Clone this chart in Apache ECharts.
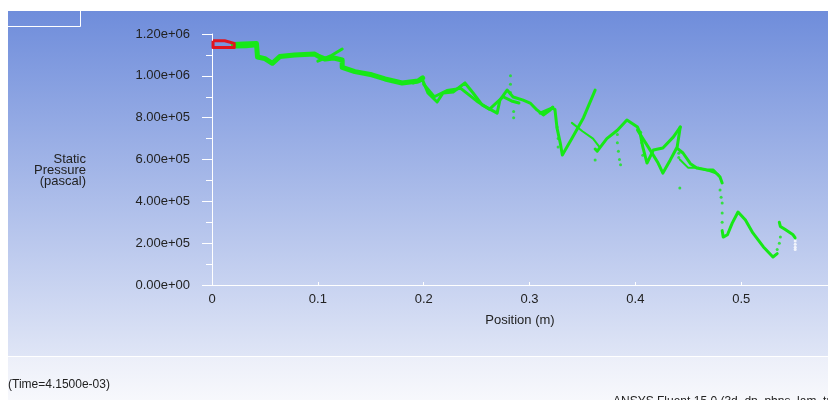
<!DOCTYPE html>
<html>
<head>
<meta charset="utf-8">
<script src="https://cdn.jsdelivr.net/npm/echarts@6/dist/echarts.min.js"></script>
<style>
  html, body { margin: 0; padding: 0; background: #ffffff; }
  #chart { width: 828px; height: 400px; }
</style>
</head>
<body>
<div id="chart"></div>
<script>
// tick labels
const xTickLabels = ['0', '0.1', '0.2', '0.3', '0.4', '0.5']
const yTickLabels = ['0.00e+00', '2.00e+05', '4.00e+05', '6.00e+05', '8.00e+05', '1.00e+06', '1.20e+06']

// red inlet loop
const redLoop = [[0.001, 1.168e6], [0.012, 1.168e6], [0.021, 1.155e6], [0.021, 1.135e6], [0.001, 1.135e6], [0.001, 1.168e6]]

// green strands
const strandA = [[0.020, 1.150e6], [0.030, 1.152e6], [0.042, 1.155e6], [0.043, 1.090e6], [0.050, 1.082e6], [0.057, 1.060e6],
  [0.064, 1.092e6], [0.078, 1.100e6], [0.097, 1.104e6], [0.100, 1.095e6], [0.107, 1.080e6], [0.115, 1.085e6],
  [0.123, 1.076e6], [0.123, 1.040e6], [0.135, 1.020e6], [0.151, 1.005e6], [0.1635, 0.985e6], [0.1796, 0.966e6],
  [0.1947, 0.975e6], [0.199, 0.990e6]]
const strandA2 = [[0.021, 1.140e6], [0.032, 1.142e6], [0.042, 1.146e6]]
const strandCross = [[0.100, 1.070e6], [0.112, 1.095e6], [0.123, 1.128e6]]
const strandB = [[0.190, 0.966e6], [0.199, 0.980e6], [0.204, 0.918e6], [0.2127, 0.875e6], [0.2183, 0.918e6], [0.2278, 0.923e6],
  [0.239, 0.966e6], [0.2467, 0.918e6], [0.2552, 0.861e6], [0.2694, 0.822e6], [0.272, 0.884e6], [0.2788, 0.932e6],
  [0.2845, 0.899e6], [0.294, 0.884e6], [0.3006, 0.870e6], [0.307, 0.837e6], [0.313, 0.813e6], [0.3195, 0.837e6], [0.322, 0.851e6]]
const strandB2 = [[0.200, 0.960e6], [0.210, 0.900e6], [0.222, 0.930e6], [0.235, 0.940e6], [0.250, 0.880e6], [0.262, 0.840e6],
  [0.275, 0.900e6], [0.283, 0.880e6], [0.290, 0.870e6]]
const strandC = [[0.310, 0.822e6], [0.321, 0.846e6], [0.324, 0.840e6], [0.326, 0.750e6], [0.329, 0.680e6], [0.331, 0.622e6],
  [0.340, 0.700e6], [0.351, 0.800e6], [0.362, 0.932e6]]
const strandC2 = [[0.340, 0.775e6], [0.350, 0.735e6], [0.360, 0.700e6], [0.366, 0.660e6]]
const strandD = [[0.362, 0.650e6], [0.364, 0.640e6], [0.373, 0.700e6], [0.383, 0.740e6], [0.392, 0.789e6], [0.402, 0.755e6],
  [0.4045, 0.727e6], [0.407, 0.660e6], [0.411, 0.583e6], [0.417, 0.645e6], [0.426, 0.655e6], [0.436, 0.708e6], [0.4424, 0.755e6]]
const strandD2 = [[0.402, 0.741e6], [0.414, 0.645e6], [0.4215, 0.583e6], [0.426, 0.535e6], [0.433, 0.598e6], [0.4395, 0.660e6], [0.4424, 0.755e6]]
const strandE = [[0.4405, 0.650e6], [0.445, 0.631e6], [0.452, 0.580e6], [0.458, 0.559e6], [0.468, 0.550e6], [0.4735, 0.550e6],
  [0.480, 0.516e6], [0.482, 0.488e6]]
const strandE2 = [[0.442, 0.600e6], [0.450, 0.560e6], [0.460, 0.560e6], [0.470, 0.545e6], [0.478, 0.530e6], [0.480, 0.516e6]]
const strandF = [[0.482, 0.260e6], [0.483, 0.229e6], [0.487, 0.240e6], [0.4915, 0.296e6], [0.497, 0.349e6], [0.504, 0.311e6],
  [0.511, 0.249e6], [0.521, 0.182e6], [0.530, 0.134e6], [0.534, 0.150e6]]
const strandG = [[0.536, 0.300e6], [0.537, 0.280e6], [0.5416, 0.265e6], [0.549, 0.240e6], [0.551, 0.225e6]]

// loose dots
const greenDots = [[0.282, 0.920e6], [0.282, 0.960e6], [0.282, 1.000e6], [0.285, 0.830e6], [0.285, 0.800e6],
  [0.326, 0.755e6], [0.327, 0.700e6], [0.327, 0.660e6], [0.362, 0.598e6],
  [0.383, 0.720e6], [0.383, 0.680e6], [0.384, 0.640e6], [0.385, 0.600e6], [0.386, 0.575e6],
  [0.405, 0.730e6], [0.406, 0.680e6], [0.407, 0.620e6], [0.442, 0.464e6], [0.441, 0.630e6], [0.441, 0.610e6],
  [0.480, 0.454e6], [0.481, 0.420e6], [0.482, 0.392e6], [0.482, 0.344e6], [0.482, 0.300e6],
  [0.534, 0.170e6], [0.536, 0.200e6], [0.537, 0.230e6]]
const whiteDots = [[0.551, 0.225e6], [0.551, 0.210e6], [0.551, 0.195e6], [0.551, 0.180e6], [0.551, 0.170e6]]

const green = '#17e817'

function strand(data, width) {
  return {
    type: 'line',
    data: data,
    showSymbol: false,
    lineStyle: { color: green, width: width || 3, cap: 'round', join: 'round' },
    silent: true,
  }
}

const chart = echarts.init(document.getElementById('chart'), null, { renderer: 'canvas' })

const option = {
  animation: false,
  backgroundColor: '#ffffff',
  textStyle: { fontFamily: 'Liberation Sans' },
  graphic: [
    {
      type: 'rect', z: -10, silent: true,
      shape: { x: 8, y: 11, width: 820, height: 345 },
      style: {
        fill: new echarts.graphic.LinearGradient(0, 0, 0, 1, [
          { offset: 0, color: '#6f8ddb' },
          { offset: 1, color: '#dfe5f6' },
        ]),
      },
    },
    {
      type: 'rect', z: -10, silent: true,
      shape: { x: 8, y: 357, width: 820, height: 43 },
      style: {
        fill: new echarts.graphic.LinearGradient(0, 0, 0, 1, [
          { offset: 0, color: '#eceff9' },
          { offset: 1, color: '#f7f8fc' },
        ]),
      },
    },
    {
      type: 'polyline', silent: true,
      shape: { points: [[8, 26.5], [80.5, 26.5], [80.5, 11]] },
      style: { stroke: '#ffffff', lineWidth: 1, fill: null },
    },
    {
      type: 'text', x: 86, y: 154, silent: true,
      style: {
        text: 'Static\nPressure\n(pascal)', fill: '#222222', font: '13px "Liberation Sans"',
        align: 'right', verticalAlign: 'top', lineHeight: 11,
      },
    },
    {
      type: 'text', x: 8, y: 379, silent: true,
      style: { text: '(Time=4.1500e-03)', fill: '#222222', font: '12px "Liberation Sans"' },
    },
    {
      type: 'text', x: 613, y: 396, silent: true,
      style: { text: 'ANSYS Fluent 15.0 (3d, dp, pbns, lam, transient)', fill: '#222222', font: '12px "Liberation Sans"' },
    },
  ],
  grid: { left: 212, top: 34, right: 0, bottom: 115, containLabel: false },
  xAxis: {
    type: 'value',
    min: 0,
    max: 0.582,
    interval: 0.1,
    name: 'Position (m)',
    nameLocation: 'middle',
    nameGap: 29,
    nameTextStyle: { color: '#222222', fontSize: 13 },
    axisLine: { show: true, onZero: false, lineStyle: { color: '#ffffff', width: 1 } },
    axisTick: { show: true, inside: true, length: 3, lineStyle: { color: '#ffffff' } },
    axisLabel: {
      color: '#222222', fontSize: 13, margin: 8, showMaxLabel: false,
      formatter: (v, i) => xTickLabels[i] || '',
    },
    splitLine: { show: false },
  },
  yAxis: {
    type: 'value',
    min: 0,
    max: 1.2e6,
    interval: 2e5,
    axisLine: { show: true, lineStyle: { color: '#ffffff', width: 1 } },
    axisTick: { show: true, length: 10, lineStyle: { color: '#ffffff' } },
    minorTick: { show: true, splitNumber: 2, length: 6, lineStyle: { color: '#ffffff' } },
    axisLabel: {
      color: '#222222', fontSize: 13, margin: 22,
      formatter: (v, i) => yTickLabels[i] || '',
    },
    splitLine: { show: false },
  },
  series: [
    strand(strandA, 5),
    strand(strandA2, 4),
    strand(strandCross, 3),
    strand(strandB, 3),
    strand(strandB2, 3),
    strand(strandC, 3),
    strand(strandC2, 2),
    strand(strandD, 3),
    strand(strandD2, 3),
    strand(strandE, 3),
    strand(strandE2, 2),
    strand(strandF, 3),
    strand(strandG, 3),
    {
      type: 'scatter', data: greenDots, symbolSize: 3, silent: true,
      itemStyle: { color: green },
    },
    {
      type: 'scatter', data: whiteDots, symbolSize: 3, silent: true,
      itemStyle: { color: '#ffffff' },
    },
    {
      type: 'line', data: redLoop, showSymbol: false, silent: true,
      lineStyle: { color: '#e0141e', width: 3, join: 'round' },
    },
  ],
}

chart.setOption(option)
</script>
</body>
</html>
